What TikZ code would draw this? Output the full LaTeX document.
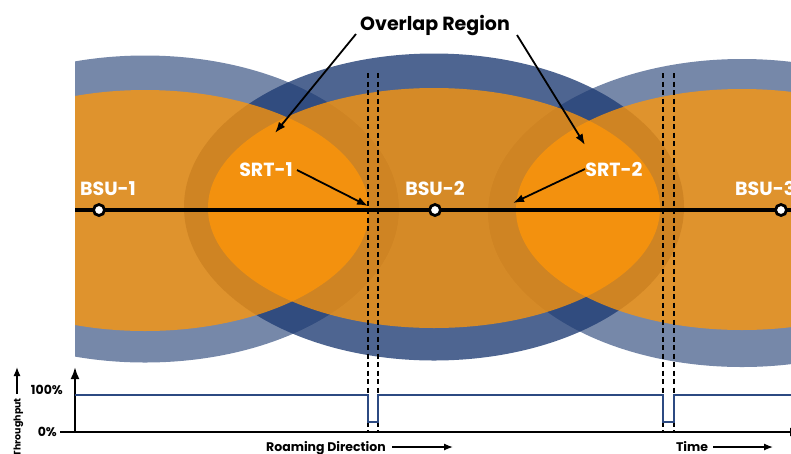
\documentclass[tikz,border=0pt]{standalone}
\usepackage{fontspec}
\setmainfont{Poppins}
\usetikzlibrary{arrows.meta}
\definecolor{bluebase}{RGB}{31,60,115}
\definecolor{orangebase}{RGB}{255,150,8}
\definecolor{tpblue}{RGB}{44,74,130}
\tikzset{
  ringlight/.style={fill=bluebase, fill opacity=0.61},
  ringdark/.style={fill=bluebase, fill opacity=0.79},
  cover/.style={fill=orangebase, fill opacity=0.77},
  bsu/.style={circle, draw=black, fill=white, line width=2.8pt, inner sep=0pt, minimum size=11pt},
  lbl/.style={text=white, font=\bfseries\fontsize{19}{19}\selectfont, inner sep=0pt},
  callout/.style={line width=1.8pt, -{Latex[length=11pt,width=8pt]}},
  guide/.style={draw=black, line width=1.1pt, dash pattern=on 5pt off 3.5pt},
  small/.style={font=\bfseries\fontsize{12.5}{12.5}\selectfont, inner sep=0pt},
  thinarrow/.style={line width=1.3pt, -{Latex[length=9pt,width=7pt]}},
}
\begin{document}
\begin{tikzpicture}[x=1pt,y=-1pt]
\useasboundingbox (0,0) rectangle (791,453);
\clip (0,0) rectangle (791,453);
% coverage ellipses
\begin{scope}
  \clip (75,0) rectangle (791,453);
  \fill[ringlight] (145,209) ellipse [x radius=254pt, y radius=153.5pt];
  \fill[ringlight] (742,213) ellipse [x radius=254pt, y radius=154pt];
  \fill[ringdark]  (434,207) ellipse [x radius=250pt, y radius=153.5pt];
  \fill[cover] (145,210.5) ellipse [x radius=224pt, y radius=120.5pt];
  \fill[cover] (434,208) ellipse [x radius=226pt, y radius=120pt];
  \fill[cover] (742,209.5) ellipse [x radius=226pt, y radius=120.5pt];
\end{scope}
% dashed guides
\coordinate (g1t) at (368,73); \coordinate (g1b) at (368,432);
\coordinate (g2t) at (378,73); \coordinate (g2b) at (378,432);
\coordinate (g3t) at (663,73); \coordinate (g3b) at (663,432);
\coordinate (g4t) at (674,73); \coordinate (g4b) at (674,432);
\draw[guide] (g1t) -- (g1b);
\draw[guide] (g2t) -- (g2b);
\draw[guide] (g3t) -- (g3b);
\draw[guide] (g4t) -- (g4b);
% roaming line
\coordinate (lstart) at (75,210);
\coordinate (lend) at (791,210);
\draw[line width=3.5pt] (lstart) -- (lend);
\node[bsu] (bsu1) at (99,210) {};
\node[bsu] (bsu2) at (435,210) {};
\node[bsu] (bsu3) at (781,210) {};
\node[lbl, anchor=base] (bsu1l) at (108,195) {BSU-1};
\node[lbl, anchor=base] (bsu2l) at (435,195) {BSU-2};
\node[lbl, anchor=base west] (bsu3l) at (735,195) {BSU-3};
\node[lbl, anchor=base] (srt1l) at (266,176) {SRT-1};
\node[lbl, anchor=base] (srt2l) at (614,176) {SRT-2};
% callouts
\node[anchor=base, inner sep=0pt, font=\bfseries\fontsize{19}{19}\selectfont] (ovl) at (435,30) {Overlap Region};
\coordinate (o1s) at (356,34); \coordinate (o1e) at (275,133);
\coordinate (o2s) at (517,35); \coordinate (o2e) at (585,145);
\draw[callout] (o1s) -- (o1e);
\draw[callout] (o2s) -- (o2e);
\coordinate (s1s) at (297,170); \coordinate (s1e) at (368,206);
\coordinate (s2s) at (585,169); \coordinate (s2e) at (513,203);
\draw[callout] (s1s) -- (s1e);
\draw[callout] (s2s) -- (s2e);
% throughput chart
\coordinate (origin) at (75,432);
\coordinate (ytop) at (75,367);
\coordinate (xleft) at (60,432);
\coordinate (xright) at (802,432);
\draw[line width=2.2pt, -{Latex[length=12pt,width=9pt]}] (origin) -- (ytop);
\draw[line width=2pt, -{Latex[length=12pt,width=9pt]}] (xleft) -- (xright);
\draw[tpblue, line width=1.8pt, line join=miter]
  (75,395) -- (368,395) -- (368,422) -- (378,422) -- (378,395)
  -- (663,395) -- (663,422) -- (674,422) -- (674,395) -- (791,395);
\node[small, anchor=base east] (p100) at (63,394) {100\%};
\node[small, anchor=base east] (p0) at (57,436) {0\%};
\node[small, anchor=base] (roam) at (326,451) {Roaming Direction};
\coordinate (ra1) at (392,447); \coordinate (ra2) at (453,447);
\draw[thinarrow] (ra1) -- (ra2);
\node[small, anchor=base] (time) at (692,451) {Time};
\coordinate (ta1) at (713,447); \coordinate (ta2) at (773,447);
\draw[thinarrow] (ta1) -- (ta2);
\node[inner sep=0pt, rotate=90, anchor=mid east, font=\bfseries\fontsize{9.5}{9.5}\selectfont] (thr) at (18,398) {Throughput};
\coordinate (th1) at (17,394); \coordinate (th2) at (17,367);
\draw[thinarrow] (th1) -- (th2);
\end{tikzpicture}
\end{document}
